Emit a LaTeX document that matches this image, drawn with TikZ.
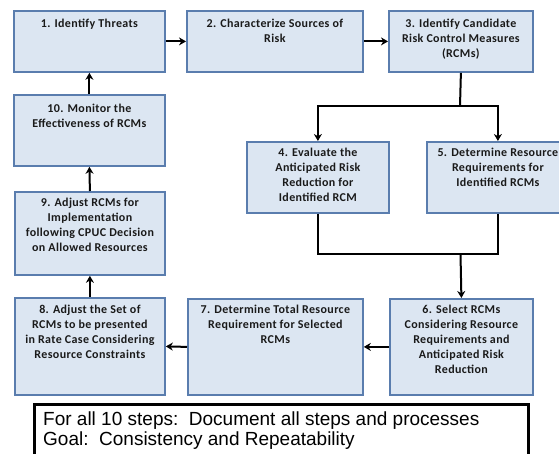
\documentclass[tikz,border=0pt]{standalone}
\usepackage{fontspec}
\setmainfont{Carlito}
\newfontfamily\stepfont[LetterSpace=3]{Carlito}
\newfontfamily\notefont{Liberation Sans}
\usetikzlibrary{arrows.meta}
\definecolor{boxfill}{HTML}{DCE6F2}
\definecolor{boxline}{HTML}{5A7DAE}
\definecolor{stepink}{HTML}{1A1A1A}
\begin{document}
\begin{tikzpicture}[x=1pt,y=-1pt,
  stepbox/.style={draw=boxline, fill=boxfill, line width=1.8pt, inner sep=0pt, anchor=north west},
  steptext/.style={anchor=north, inner sep=0pt, align=center, text=stepink,
    font=\stepfont\fontsize{12}{15}\selectfont\bfseries},
  flow/.style={line width=2pt, draw=black, line join=miter},
  flowarrow/.style={flow, -{Stealth[length=7pt,width=8pt]}}]
\useasboundingbox (0,0) rectangle (559,454);
\clip (0,0) rectangle (559,454);

% step boxes
\node[stepbox, minimum width=151pt, minimum height=61pt] (b1) at (13,10) {};
\node[stepbox, minimum width=176pt, minimum height=61pt] (b2) at (186,10) {};
\node[stepbox, minimum width=144pt, minimum height=61pt] (b3) at (388,10) {};
\node[stepbox, minimum width=142pt, minimum height=71pt] (b4) at (246,141) {};
\node[stepbox, minimum width=142pt, minimum height=71pt] (b5) at (426,141) {};
\node[stepbox, minimum width=143pt, minimum height=96pt] (b6) at (389,298) {};
\node[stepbox, minimum width=175pt, minimum height=96pt] (b7) at (187,298) {};
\node[stepbox, minimum width=150pt, minimum height=97pt] (b8) at (14,297) {};
\node[stepbox, minimum width=150pt, minimum height=83pt] (b9) at (14,191) {};
\node[stepbox, minimum width=151pt, minimum height=71pt] (b10) at (13,94) {};

% step labels
\node[steptext] (t1) at ([yshift=-9pt]b1.north) {1. Identify Threats};
\node[steptext] (t2) at ([yshift=-9pt]b2.north) {2. Characterize Sources of\\Risk};
\node[steptext] (t3) at ([yshift=-9pt]b3.north) {3. Identify Candidate\\Risk Control Measures\\(RCMs)};
\node[steptext] (t4) at ([yshift=-7pt]b4.north) {4. Evaluate the\\Anticipated Risk\\Reduction for\\Identified RCM};
\node[steptext] (t5) at ([yshift=-7pt]b5.north) {5. Determine Resource\\Requirements for\\Identified RCMs};
\node[steptext] (t6) at ([yshift=-7pt]b6.north) {6. Select RCMs\\Considering Resource\\Requirements and\\Anticipated Risk\\Reduction};
\node[steptext] (t7) at ([yshift=-7pt]b7.north) {7. Determine Total Resource\\Requirement for Selected\\RCMs};
\node[steptext] (t8) at ([yshift=-8pt]b8.north) {8. Adjust the Set of\\RCMs to be presented\\in Rate Case Considering\\Resource Constraints};
\node[steptext] (t9) at ([yshift=-7pt]b9.north) {9. Adjust RCMs for\\Implementation\\following CPUC Decision\\on Allowed Resources};
\node[steptext] (t10) at ([yshift=-10pt]b10.north) {10. Monitor the\\Effectiveness of RCMs};

% connectors
\draw[flowarrow] (b1.east) -- (b2.west);
\draw[flowarrow] (b2.east) -- (b3.west);

\coordinate (split) at (460,106);
\draw[flow] (b3.south) -- (split);
\draw[flowarrow] (split) -| (b4.north);
\draw[flowarrow] (split) -| (b5.north);

\coordinate (merge) at (460.5,254);
\draw[flow] (b4.south) |- (b5.south |- merge) -- (b5.south);
\draw[flowarrow] (merge) -- (b6.north);

\draw[flowarrow] (b6.west) -- (b7.east);
\draw[flowarrow] (b7.west) -- (b8.east);
\draw[flowarrow] (b8.north) -- (b9.south);
\draw[flowarrow] (b9.north) -- (b10.south);
\draw[flowarrow] (b10.north) -- (b1.south);

% note box
\node[draw=black, line width=2.6pt, fill=white, anchor=north west,
      minimum width=494pt, minimum height=70pt, inner sep=0pt] (note) at (33,403) {};
\node[anchor=north west, inner sep=0pt, align=left,
      font=\notefont\fontsize{19}{19.5}\selectfont] (notetext) at (43,412)
  {For all 10 steps:\ \ Document all steps and processes\\Goal:\ \ Consistency and Repeatability};
\end{tikzpicture}
\end{document}
